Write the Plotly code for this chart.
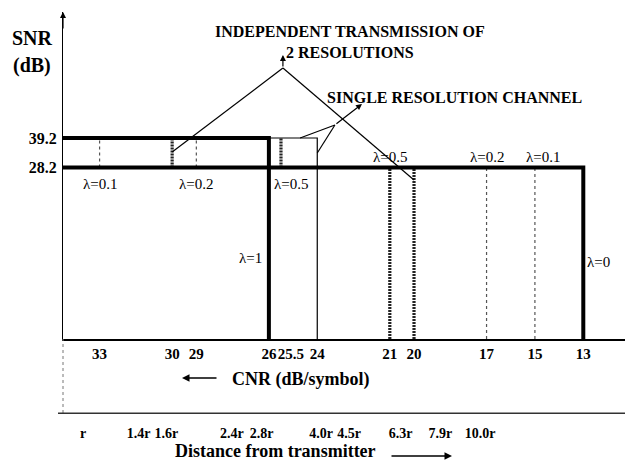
import plotly.graph_objects as go

# ---------------- data ----------------
CNR_TICKS = [33, 30, 29, 26, 25.5, 24, 21, 20, 17, 15, 13]
CNR_TICK_TEXT = ["33", "30", "29", "26", "25.5", "24", "21", "20", "17", "15", "13"]
SNR_LEVELS = [28.2, 39.2]
SNR_TICK_TEXT = ["28.2", "39.2"]
DIST_CNR = [33, 30, 29, 25.5, 24, 21, 20, 17, 15, 13]
DIST_LABELS = ["r", "1.4r", "1.6r", "2.4r", "2.8r", "4.0r", "4.5r", "6.3r", "7.9r", "10.0r"]

TWO_RES_HIGH_END = 26      # lambda = 1 threshold
TWO_RES_LOW_END = 13       # lambda = 0 threshold
SINGLE_RES_END = 24        # single resolution channel threshold
BAND_LINES_CNR = [33, 30, 29, 25.5]   # between 28.2 and 39.2
LOW_LINES_CNR = [21, 20, 17, 15]      # below 28.2
UPPER_LAMBDA = ["λ=0.1", "λ=0.2", "λ=0.5"]
LOWER_LAMBDA = ["λ=0.5", "λ=0.2", "λ=0.1"]

# ---------------- layout constants ----------------
X_RANGE = [34.513, 11.276]
Y_RANGE = [-35.74, 86.18]
X2_PX_PER_DB = 19.85
SERIF = "Liberation Serif"
HATCH = ("2px,1px", 3.2, "#222")
BAND_STYLE = [("dot", 1.2, "#555"), HATCH, ("dot", 1.2, "#555"), HATCH]
LOW_STYLE = [HATCH, HATCH, ("dot", 1.2, "#555"), ("3px,3px", 1.0, "#333")]
# typographic nudges (px, + = to the right on screen) of crowded tick labels, as in the reference
TICK_NUDGE = {"25.5": 10, "1.4r": -4, "1.6r": 4, "4.5r": 8}

xl, ymin = X_RANGE[0], Y_RANGE[0]
lo, hi = SNR_LEVELS

W, H = 625, 462
ML, MR, MT, MB = 52, 0, 12, 47
PW, PH = W - ML - MR, H - MT - MB


def px(x):
    return (x - ML) / PW


def py(y):
    return (H - MB - y) / PH


X2_RANGE = [34.562 - (58 - ML) / X2_PX_PER_DB, 5.695]


def seg(xs, ys, width, dash="solid", color="black"):
    return go.Scatter(x=xs, y=ys, mode="lines", line=dict(width=width, dash=dash, color=color),
                      hoverinfo="skip", showlegend=False)


fig = go.Figure()
for c, (d, w, col) in zip(BAND_LINES_CNR, BAND_STYLE):
    fig.add_trace(seg([c, c], [lo, hi], w, d, col))
for c, (d, w, col) in zip(LOW_LINES_CNR, LOW_STYLE):
    fig.add_trace(seg([c, c], [ymin, lo], w, d, col))
fig.add_trace(seg([TWO_RES_HIGH_END, SINGLE_RES_END, SINGLE_RES_END], [hi, hi, ymin], 1.2))
fig.add_trace(seg([xl, TWO_RES_HIGH_END, TWO_RES_HIGH_END], [hi, hi, ymin], 4))
fig.add_trace(seg([xl, TWO_RES_LOW_END, TWO_RES_LOW_END], [lo, lo, ymin], 4))

cnr_font = dict(family=SERIF, size=15, color="black", weight="bold")
dist_font = dict(family=SERIF, size=14, color="black", weight="bold")
common = dict(showgrid=False, zeroline=False, ticks="", tickangle=0, automargin=False)

layout = dict(
    width=W, height=H, margin=dict(l=ML, r=MR, t=MT, b=MB, autoexpand=False),
    plot_bgcolor="rgba(0,0,0,0)", paper_bgcolor="white", showlegend=False,
    yaxis=dict(domain=[py(339), py(12)], anchor="x", range=Y_RANGE, showline=True, linecolor="black",
               linewidth=1.2, tickvals=SNR_LEVELS, ticktext=SNR_TICK_TEXT,
               tickfont=dict(family=SERIF, size=16, color="black", weight="bold"), ticklabelstandoff=2,
               **{k: v for k, v in common.items() if k != "tickangle"}),
)


def split(vals, texts):
    base_v, base_t, extra = [], [], []
    for v, t in zip(vals, texts):
        if t in TICK_NUDGE:
            extra.append((v, t))
        else:
            base_v.append(v)
            base_t.append(t)
    return base_v, base_t, extra


CNR_LINE = dict(linewidth=1.5)
DIST_LINE = dict(linewidth=1.2)

# CNR axis
bv, bt, extra_cnr = split(CNR_TICKS, CNR_TICK_TEXT)
layout["xaxis"] = dict(domain=[px(63), 1], anchor="y", range=X_RANGE, showline=True, linecolor="black",
                       tickvals=bv, ticktext=bt, tickfont=cnr_font, ticklabelstandoff=0, **CNR_LINE, **common)
# distance axis
dv, dt, extra_dist = split(DIST_CNR, DIST_LABELS)
layout["xaxis2"] = dict(domain=[px(58), 1], anchor="free", position=py(413), range=X2_RANGE, showline=True,
                        linecolor="#333", tickvals=dv, ticktext=dt, tickfont=dist_font,
                        ticklabelstandoff=7, **DIST_LINE, **common)
fig.add_trace(go.Scatter(x=DIST_CNR, y=[None] * len(DIST_CNR), xaxis="x2", yaxis="y", mode="markers",
                         marker=dict(opacity=0), hoverinfo="skip", showlegend=False))

n = 3
for group, base, rng, font, stand, lw in [(extra_cnr, "x", X_RANGE, cnr_font, 0, CNR_LINE),
                                          (extra_dist, "x2", X2_RANGE, dist_font, 7, DIST_LINE)]:
    for v, t in group:
        # axis runs right-to-left, so a positive shift along it moves labels left on screen
        ax = dict(overlaying=base, range=rng, showline=True, linecolor="rgba(0,0,0,0)", tickvals=[v],
                  ticktext=[t], tickfont=font, ticklabelstandoff=stand, ticklabelshift=-TICK_NUDGE[t],
                  **lw, **common)
        if base == "x":
            ax["anchor"] = "y"
        else:
            ax.update(anchor="free", position=py(413))
        layout["xaxis%d" % n] = ax
        fig.add_trace(go.Scatter(x=[v], y=[None], xaxis="x%d" % n, yaxis="y", mode="markers",
                                 marker=dict(opacity=0), hoverinfo="skip", showlegend=False))
        n += 1

fig.update_layout(**layout)

ann = []
bold = lambda s: dict(family=SERIF, size=s, color="black", weight="bold")
reg = dict(family=SERIF, size=15, color="black")
C = dict(xref="paper", yref="paper", showarrow=False, xanchor="center", yanchor="middle")

# titles
ann.append(dict(text="SNR", x=px(32), y=py(38), font=bold(20), **C))
ann.append(dict(text="(dB)", x=px(32), y=py(65), font=bold(20), **C))
ann.append(dict(text="CNR (dB/symbol)", x=px(301), y=py(379), font=bold(18), **C))
ann.append(dict(text="Distance from transmitter", x=px(275), y=py(451), font=bold(18), **C))
ann.append(dict(text="INDEPENDENT TRANSMISSION OF<br>2 RESOLUTIONS", x=px(350), y=py(42),
                font=bold(16), align="center", **C))
ann.append(dict(text="SINGLE RESOLUTION CHANNEL", x=px(454), y=py(97), font=bold(16), **C))

# direction arrows
ann.append(dict(x=px(182), y=py(378), xref="paper", yref="paper", ax=36, ay=0, showarrow=True,
                arrowhead=2, arrowsize=1, arrowwidth=1.5, arrowcolor="black", text=""))
ann.append(dict(x=px(452), y=py(456), xref="paper", yref="paper", ax=-62, ay=0, showarrow=True,
                arrowhead=2, arrowsize=1, arrowwidth=1.5, arrowcolor="black", text=""))
# y axis arrow
ann.append(dict(x=px(63), y=py(12), xref="paper", yref="paper", ax=0, ay=18, showarrow=True,
                arrowhead=2, arrowsize=1, arrowwidth=1.2, arrowcolor="black", text=""))

# lambda labels
for lab, c in zip(UPPER_LAMBDA[:2], [33, 29]):
    ann.append(dict(text=lab, x=c, y=lo, xref="x", yref="y", yshift=-16, showarrow=False, font=reg))
ann.append(dict(text=UPPER_LAMBDA[2], x=TWO_RES_HIGH_END, y=lo, xref="x", yref="y", xanchor="left",
                xshift=3, yshift=-16, showarrow=False, font=reg))
for lab, c in zip(LOWER_LAMBDA, [21, 17, 14.66]):
    ann.append(dict(text=lab, x=c, y=lo, xref="x", yref="y", yshift=11, showarrow=False, font=reg))
ann.append(dict(text="λ=1", x=TWO_RES_HIGH_END, y=-5.5, xref="x", yref="y", xanchor="right", xshift=-5,
                showarrow=False, font=reg))
ann.append(dict(text="λ=0", x=TWO_RES_LOW_END, y=-7.0, xref="x", yref="y", xanchor="left", xshift=2,
                showarrow=False, font=reg))

# pointer arrows (data coords)
ann.append(dict(x=25.42, y=70.15, ax=25.42, ay=65.3, xref="x", yref="y", axref="x", ayref="y",
                showarrow=True, arrowhead=2, arrowsize=1, arrowwidth=1.2, arrowcolor="black", text=""))
ann.append(dict(x=22.15, y=51.88, ax=23.27, ay=44.05, xref="x", yref="y", axref="x", ayref="y",
                showarrow=True, arrowhead=2, arrowsize=1, arrowwidth=1.2, arrowcolor="black", text=""))
fig.update_layout(annotations=ann)

shapes = []
for (x0, y0, x1, y1) in [(25.42, 65.3, 30, 33.98), (25.42, 65.3, 20, 23.54),
                         (24.71, hi, 23.27, 44.05), (24.0, 33.6, 23.27, 44.05)]:
    shapes.append(dict(type="line", xref="x", yref="y", x0=x0, y0=y0, x1=x1, y1=y1,
                       line=dict(color="black", width=1.2)))
shapes.append(dict(type="line", xref="paper", yref="paper", x0=px(63), x1=px(63), y0=py(413), y1=py(339),
                   line=dict(color="#777", width=1, dash="dot")))
shapes.append(dict(type="line", xref="paper", yref="paper", x0=px(58), x1=1, y0=py(413), y1=py(413),
                   line=dict(color="#333", width=1.2)))
fig.update_layout(shapes=shapes)

fig.write_html("out.html", post_script="document.body.style.margin='0';",
               config={"displayModeBar": False})
